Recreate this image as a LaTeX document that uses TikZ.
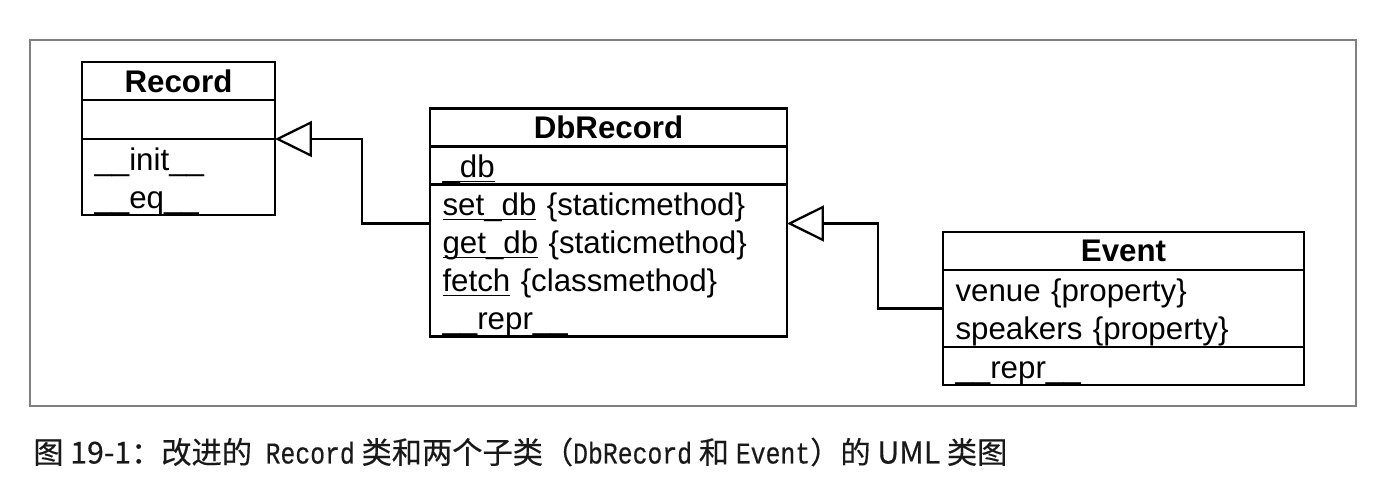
\documentclass[tikz,border=0pt]{standalone}
\usepackage{fontspec}
\setmainfont{Liberation Sans}
\newfontfamily\cjk[FakeBold=0.4]{Noto Sans CJK SC}
\newfontfamily\capmono[FakeStretch=0.82,FakeBold=0.4]{Liberation Mono}
\newcommand\umeth[1]{\leavevmode\setbox0\hbox{#1}\rlap{\rule[-2.6pt]{\wd0}{0.8pt}}\box0\relax}
\usetikzlibrary{arrows.meta,positioning}

\begin{document}
\begin{tikzpicture}[x=0.02cm,y=-0.02cm,
  head/.style={draw,line width=1.6pt,outer sep=0pt,inner sep=0pt,minimum height=0.76cm,font=\fontsize{17.8}{21.6}\selectfont\bfseries},
  comp/.style={draw,line width=1.6pt,outer sep=0pt,inner xsep=0.25cm,inner ysep=0pt,align=left,
    execute at begin node={\rule{0pt}{17.5pt}},font=\fontsize{17.8}{21.6}\selectfont},
  inh/.style={line width=1.3pt,-{Triangle[open,length=0.74cm,width=0.72cm]}}
]
  \useasboundingbox (0,0) rectangle (1398,498);
  \draw[gray,line width=0.8pt] (30,40) rectangle (1356,406);

  % Record
  \node[head,minimum width=3.86cm] (rec) at (178.5,81) {Record};
  \node[comp,text width=3.36cm,minimum height=0.78cm,below=0pt of rec] (rec-attr) {};
  \node[comp,text width=3.36cm,minimum height=1.52cm,below=0pt of rec-attr] (rec-ops) {\_\_init\_\_\\\_\_eq\_\_};

  % DbRecord
  \node[head,minimum width=7.14cm] (db) at (608.5,127.5) {DbRecord};
  \node[comp,text width=6.64cm,minimum height=0.76cm,below=0pt of db] (db-attr) {\umeth{\_db}};
  \node[comp,text width=6.64cm,minimum height=3.04cm,below=0pt of db-attr] (db-ops)
    {\umeth{set\_db} \{staticmethod\}\\\umeth{get\_db} \{staticmethod\}\\\umeth{fetch} \{classmethod\}\\\_\_repr\_\_};

  % Event
  \node[head,minimum width=7.22cm] (ev) at (1123.5,251) {Event};
  \node[comp,text width=6.72cm,minimum height=1.54cm,below=0pt of ev] (ev-attr) {venue \{property\}\\speakers \{property\}};
  \node[comp,text width=6.72cm,minimum height=0.76cm,below=0pt of ev-attr] (ev-ops) {\_\_repr\_\_};

  \draw[inh] ([yshift=0.74cm]db-ops.west) -- ++(-68,0) |- (rec-ops.north east);
  \draw[inh] (ev-attr.west) -- ++(-65,0) |- ([yshift=0.74cm]db-ops.east);

  \node[anchor=west,inner sep=0pt,text=black!90,font=\cjk\fontsize{17.2}{17.2}\selectfont] (cap) at (33,452)
    {图 19-1：改进的\hspace{0.45em}{\capmono Record} 类和两个子类（{\capmono DbRecord} 和 {\capmono Event}）的 UML 类图};
\end{tikzpicture}
\end{document}
